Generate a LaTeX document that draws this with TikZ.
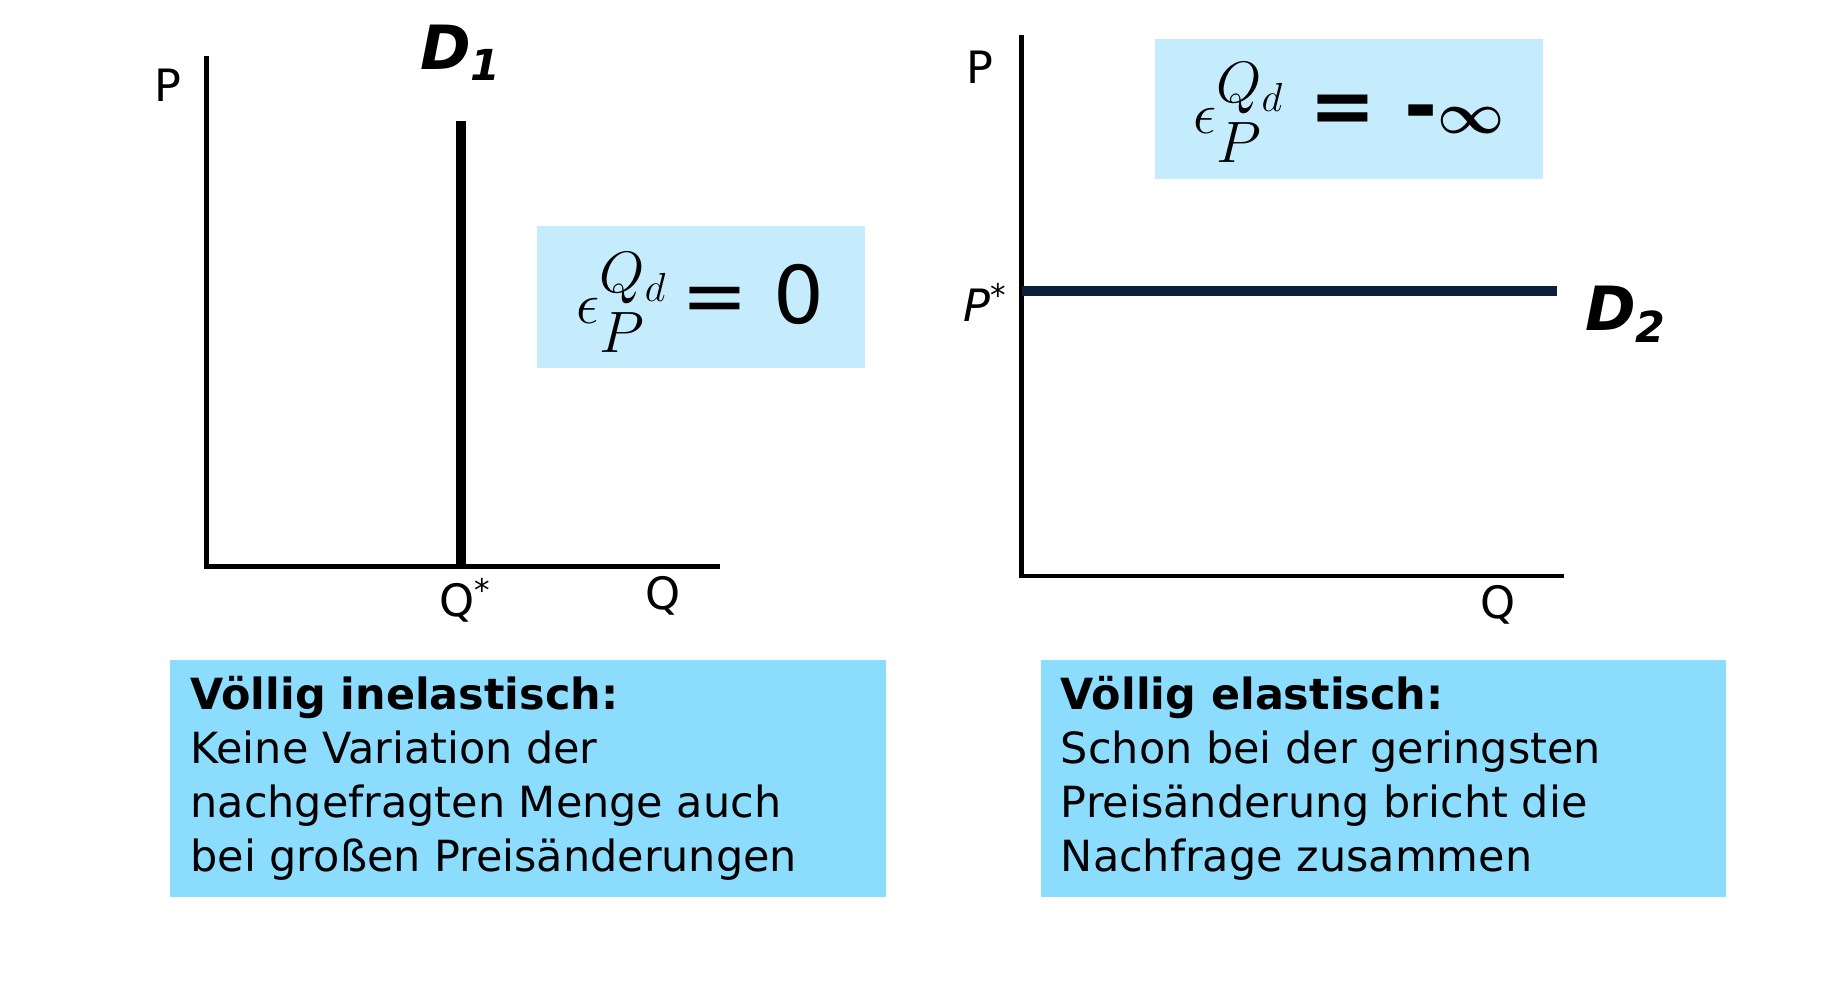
\documentclass[tikz,border=0pt]{standalone}
\usepackage{fontspec}
\setmainfont{DejaVu Sans}
\usepackage{amsmath}
\definecolor{lightbox}{HTML}{C5ECFD}
\definecolor{textbox}{HTML}{8CDCFE}
\definecolor{navy}{HTML}{0D1F3C}
\begin{document}
\begin{tikzpicture}[x=0.5pt,y=-0.5pt,
  axis/.style={line width=2pt},
  curve/.style={line width=4pt},
  lab/.style={font=\fontsize{19}{22}\selectfont},
  dlab/.style={font=\fontsize{26}{30}\selectfont\bfseries\itshape},
  fbox/.style={fill=lightbox,inner sep=0pt},
  tbox/.style={fill=textbox,inner sep=0pt},
  body/.style={font=\fontsize{18.3}{23}\selectfont,align=left,anchor=north west,inner sep=0pt}]
\useasboundingbox (0,0) rectangle (1560,850);
% left graph
\coordinate (ly) at (176,48);
\coordinate (lo) at (176,483);
\coordinate (lx) at (614,483);
\draw[axis] (ly) -- (lo) -- (lx);
\coordinate (dt) at (393,103);
\coordinate (db) at (393,483);
\draw[curve] (dt) -- (db);
\node[lab] (p1) at (143,73) {P};
\node[dlab] (d1) at (393,45) {D\textsubscript{1}};
\node[lab] (qs) at (397,512) {Q\textsuperscript{*}};
\node[lab] (q1) at (565,508) {Q};
\path[fbox] (458,193) rectangle (737,314);
\node (f1) at (597,258) {\fontsize{34}{36}\selectfont$\epsilon_P^{Q_d}$\,= 0};
% right graph
\coordinate (ry) at (871,30);
\coordinate (ro) at (871,491);
\coordinate (rx) at (1333,491);
\draw[axis] (ry) -- (ro) -- (rx);
\coordinate (hl) at (871,248);
\coordinate (hr) at (1327,248);
\draw[curve,navy] (hl) -- (hr);
\node[lab] (p2) at (835,57) {P};
\node[lab] (ps) at (840,258) {\textit{P}\textsuperscript{*}};
\node[dlab] (d2) at (1386,268) {D\textsubscript{2}};
\node[lab] (q2) at (1277,516) {Q};
\path[fbox] (985,33) rectangle (1315,153);
\node (f2) at (1150,96) {\fontsize{34}{36}\selectfont$\epsilon_P^{Q_d}$ \textbf{= -}$\boldsymbol{\infty}$};
% text boxes
\path[tbox] (145,563) rectangle (755,765);
\node[body] (t1) at (162,576) {\textbf{Völlig inelastisch:}\\Keine Variation der\\nachgefragten Menge auch\\bei großen Preisänderungen};
\path[tbox] (887,563) rectangle (1471,765);
\node[body] (t2) at (904,576) {\textbf{Völlig elastisch:}\\Schon bei der geringsten\\Preisänderung bricht die\\Nachfrage zusammen};
\end{tikzpicture}
\end{document}
